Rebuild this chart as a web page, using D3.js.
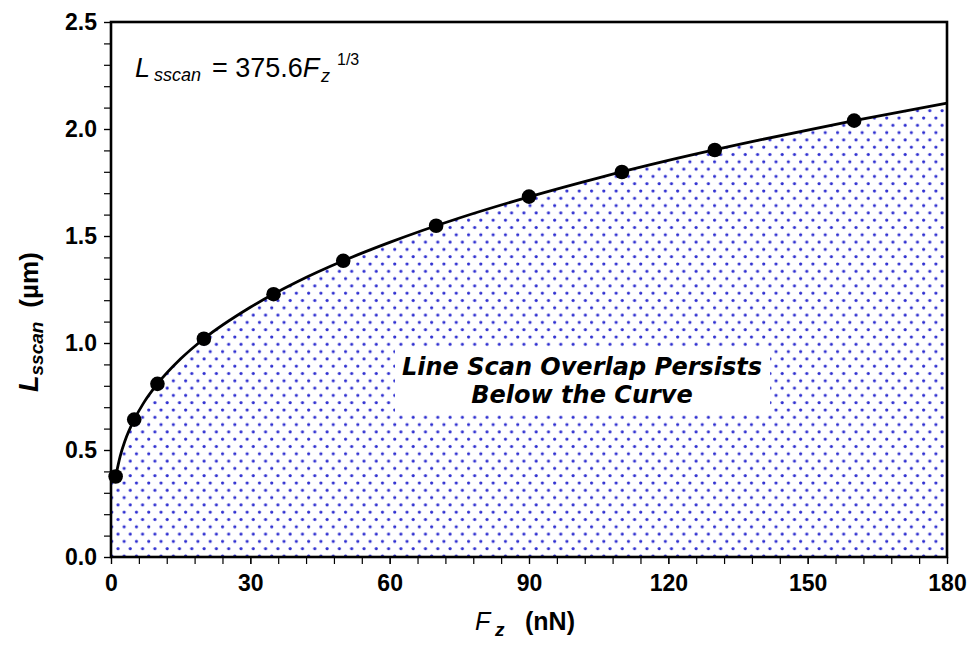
<!DOCTYPE html>
<html><head><meta charset="utf-8">
<script src="https://cdn.jsdelivr.net/npm/d3@7"></script>
<style>body{margin:0;background:#fff}</style>
</head><body>
<script>
// Data points (F_z in nN, L_sscan in µm)
const forceValues = [1, 5, 10, 20, 35, 50, 70, 90, 110, 130, 160];
const lengthValues = [0.376, 0.642, 0.809, 1.020, 1.228, 1.384, 1.548, 1.684, 1.799, 1.902, 2.039];
// Fitted curve samples
const curveForce = [1, 2, 3, 5, 7, 10, 15, 20, 30, 40, 50, 60, 75, 90, 105, 120, 140, 160, 180];
const curveLength = [0.376, 0.473, 0.542, 0.642, 0.719, 0.809, 0.926, 1.020, 1.167, 1.285, 1.384, 1.470, 1.584, 1.683, 1.772, 1.853, 1.950, 2.039, 2.121];
const xTicks = [0, 30, 60, 90, 120, 150, 180];
const yTicks = [0.0, 0.5, 1.0, 1.5, 2.0, 2.5];
const labelLines = ["Line Scan Overlap Persists", "Below the Curve"];

const W = 972, H = 647;
const svg = d3.select("body").append("svg").attr("width", W).attr("height", H);
const x = d3.scaleLinear().domain([0, 180]).range([111, 947]);
const y = d3.scaleLinear().domain([0, 2.5]).range([557, 22]);

const defs = svg.append("defs");
const pat = defs.append("pattern").attr("id", "dots").attr("patternUnits", "userSpaceOnUse")
  .attr("width", 12.3).attr("height", 14.6).attr("x", 115).attr("y", 5);
pat.append("circle").attr("cx", 3).attr("cy", 3.5).attr("r", 1.6).attr("fill", "#2f2fd0");
pat.append("circle").attr("cx", 9.15).attr("cy", 10.8).attr("r", 1.6).attr("fill", "#2f2fd0");

const curve = curveForce.map((f, i) => ({f, l: curveLength[i]}));
const areaData = [{f: 0, l: curveLength[0]}].concat(curve);

svg.append("path").datum(areaData)
  .attr("d", d3.area().x(d => x(d.f)).y0(y(0)).y1(d => y(d.l)).curve(d3.curveMonotoneX))
  .attr("fill", "url(#dots)");

// label box
const gl = svg.append("g");
gl.append("rect").attr("x", 395).attr("y", 348).attr("width", 375).attr("height", 65).attr("fill", "#fff");
gl.selectAll("text.lab").data(labelLines).join("text").attr("class", "lab")
  .attr("x", 582).attr("y", (d, i) => 375 + i * 28)
  .attr("text-anchor", "middle")
  .style("font-family", "DejaVu Sans").style("font-weight", "bold").style("font-style", "italic")
  .style("font-size", "24px").text(d => d);

svg.append("path").datum(curve)
  .attr("d", d3.line().x(d => x(d.f)).y(d => y(d.l)).curve(d3.curveMonotoneX))
  .attr("fill", "none").attr("stroke", "#000").attr("stroke-width", 2.8);

svg.selectAll("circle.pt").data(forceValues).join("circle").attr("class", "pt")
  .attr("cx", d => x(d)).attr("cy", (d, i) => y(lengthValues[i])).attr("r", 7.3).attr("fill", "#000");

// axes
const font = "'Liberation Sans', Arial, sans-serif";
const xAxis = d3.axisBottom(x).tickValues(xTicks).tickSize(7).tickPadding(11).tickFormat(d3.format("d"));
const xMinor = d3.axisBottom(x).tickValues(d3.range(0, 181, 6)).tickSize(7).tickFormat("");
const yAxis = d3.axisLeft(y).tickValues(yTicks).tickSize(7).tickPadding(7).tickFormat(d3.format(".1f"));
const yMinor = d3.axisLeft(y).tickValues(d3.range(0, 26).map(i => i / 10)).tickSize(7).tickFormat("");

function styleAxis(g) {
  g.select(".domain").remove();
  g.selectAll("line").attr("stroke", "#000").attr("stroke-width", 1.2);
  g.selectAll("text").style("font-family", font).style("font-weight", "bold").style("font-size", "23px").attr("fill", "#000");
}
svg.append("g").attr("transform", `translate(0,${y(0)})`).call(xMinor).call(styleAxis);
svg.append("g").attr("transform", `translate(0,${y(0)})`).call(xAxis).call(styleAxis);
svg.append("g").attr("transform", `translate(${x(0)},0)`).call(yMinor).call(styleAxis);
svg.append("g").attr("transform", `translate(${x(0)},0)`).call(yAxis).call(styleAxis);

svg.append("rect").attr("x", x(0)).attr("y", y(2.5)).attr("width", x(180) - x(0)).attr("height", y(0) - y(2.5))
  .attr("fill", "none").attr("stroke", "#000").attr("stroke-width", 2.6);

// equation
const eq = svg.append("text").attr("y", 77).style("font-family", font).style("font-size", "27px");
eq.append("tspan").attr("x", 135).style("font-style", "italic").text("L");
eq.append("tspan").attr("x", 154).attr("y", 81).style("font-style", "italic").style("font-size", "18px").text("sscan");
eq.append("tspan").attr("x", 212).attr("y", 77).text("= 375.6");
eq.append("tspan").style("font-style", "italic").text("F");
eq.append("tspan").attr("x", 321).attr("y", 82).style("font-style", "italic").style("font-size", "18px").text("z");
eq.append("tspan").attr("x", 337).attr("y", 65).style("font-size", "16px").text("1/3");

// x title
const xt = svg.append("text").attr("y", 630)
  .style("font-family", font).style("font-size", "25px").style("font-weight", "bold");
xt.append("tspan").attr("x", 475).style("font-style", "italic").style("font-weight", "normal").text("F");
xt.append("tspan").attr("x", 495).attr("y", 636).style("font-style", "italic").style("font-size", "19px").text("z");
xt.append("tspan").attr("x", 525).attr("y", 630).text("(nN)");

// y title
const yt = svg.append("text").attr("transform", "translate(38,392) rotate(-90)").attr("text-anchor", "start")
  .style("font-family", font).style("font-size", "26px").style("font-weight", "bold");
yt.append("tspan").style("font-style", "italic").style("font-size", "27px").text("L");
yt.append("tspan").attr("dy", 5).style("font-style", "italic").style("font-size", "19px").text("sscan");
yt.append("tspan").attr("dx", 14).attr("dy", -5).text("(µm)");
</script>
</body></html>
